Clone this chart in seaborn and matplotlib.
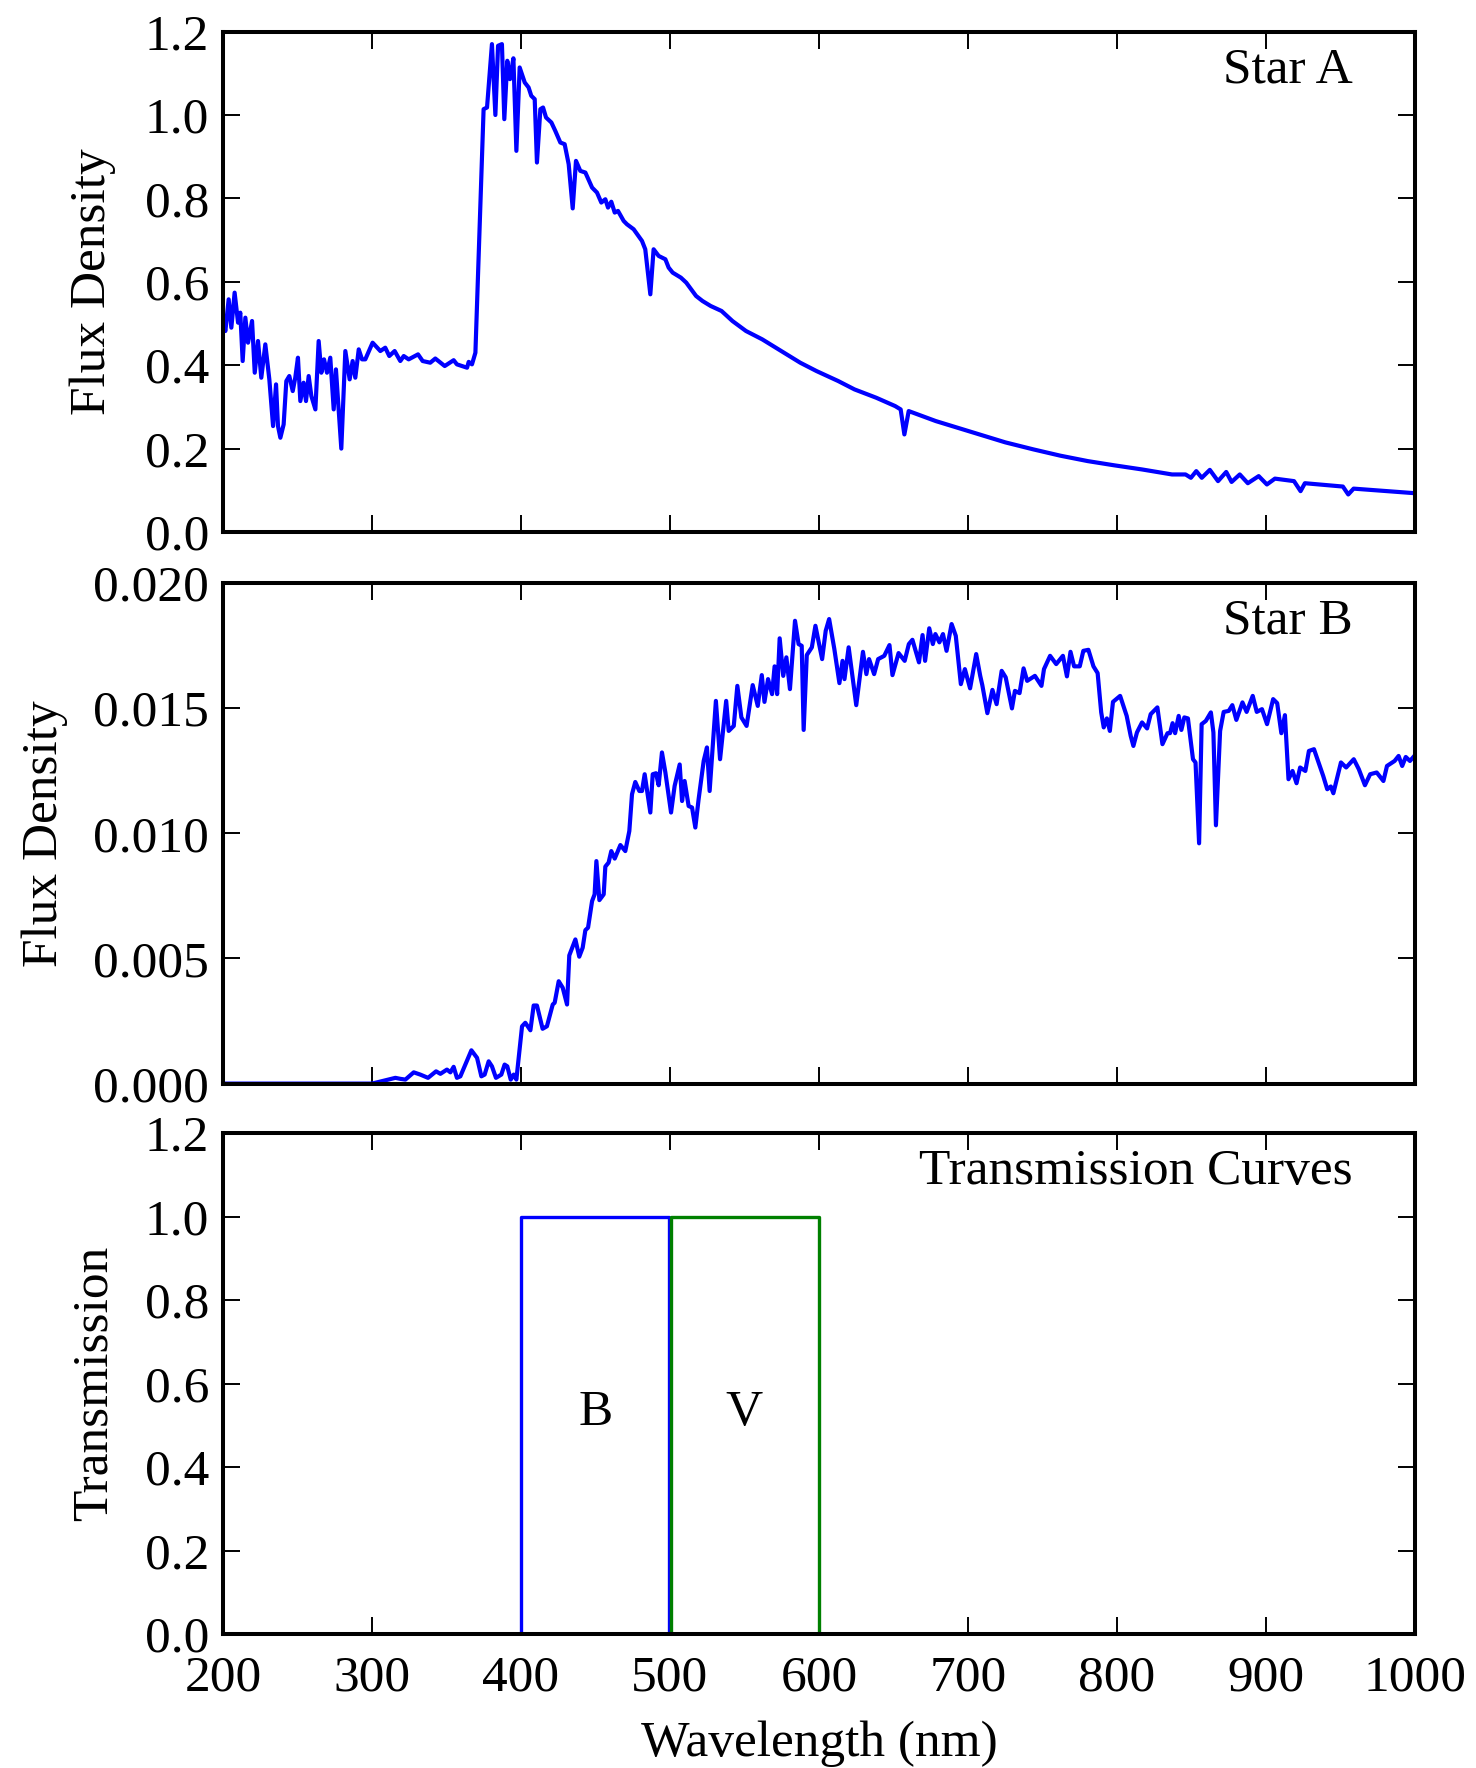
import matplotlib
matplotlib.use("Agg")
import matplotlib.pyplot as plt
import seaborn as sns
import pandas as pd
import numpy as np

# ---------------- data ----------------
starA_wl = [200.0, 201.6, 203.8, 205.6, 207.8, 210.1, 211.6, 213.2, 215.0, 216.8, 219.5, 221.3, 223.5,
            225.7, 228.4, 231.1, 233.6, 235.6, 236.9, 238.5, 240.7, 242.5, 244.5, 246.8, 248.5, 250.3,
            251.9, 254.1, 255.7, 257.5, 259.3, 262.0, 264.2, 266.0, 267.8, 269.8, 272.0, 274.3, 275.8,
            279.4, 282.1, 285.0, 287.0, 288.8, 291.1, 293.3, 295.5, 300.4, 305.6, 308.9, 311.6, 315.2,
            319.0, 321.3, 324.6, 330.9, 334.0, 339.1, 342.5, 348.8, 354.8, 357.0, 363.8, 364.9, 367.1,
            369.4, 374.9, 377.2, 380.5, 382.8, 384.6, 387.2, 388.8, 390.8, 392.6, 394.9, 396.9, 399.1,
            402.5, 405.1, 406.9, 409.2, 410.7, 413.0, 414.8, 416.8, 420.4, 423.0, 426.4, 429.3, 432.0,
            434.7, 436.9, 439.8, 443.2, 447.7, 451.0, 453.9, 456.6, 458.4, 460.6, 462.9, 465.1, 468.9,
            471.1, 475.6, 481.2, 483.4, 486.8, 489.0, 492.4, 496.9, 499.1, 501.8, 507.3, 510.9, 517.5,
            521.8, 527.3, 534.6, 541.9, 551.0, 561.9, 572.8, 587.4, 598.3, 612.9, 623.8, 638.4, 651.1,
            654.8, 657.3, 660.2, 678.4, 707.6, 725.0, 744.0, 762.0, 780.4, 798.0, 816.8, 836.9, 846.0,
            849.6, 853.2, 856.9, 862.3, 867.8, 873.3, 876.9, 882.4, 887.8, 895.1, 900.6, 906.0, 918.8,
            923.2, 926.1, 951.6, 955.2, 958.8, 1000.0]
starA_flux = [0.50, 0.482, 0.558, 0.490, 0.574, 0.502, 0.526, 0.410, 0.514, 0.454, 0.506, 0.382, 0.458,
              0.370, 0.450, 0.366, 0.254, 0.354, 0.254, 0.226, 0.258, 0.362, 0.374, 0.338, 0.370, 0.418,
              0.314, 0.358, 0.314, 0.374, 0.326, 0.294, 0.458, 0.382, 0.414, 0.382, 0.418, 0.294, 0.390,
              0.200, 0.434, 0.366, 0.410, 0.370, 0.438, 0.414, 0.414, 0.454, 0.434, 0.442, 0.422, 0.434,
              0.410, 0.422, 0.414, 0.426, 0.410, 0.406, 0.416, 0.398, 0.412, 0.402, 0.394, 0.408, 0.402,
              0.430, 1.014, 1.018, 1.170, 1.000, 1.166, 1.170, 0.990, 1.130, 1.086, 1.136, 0.914, 1.114,
              1.078, 1.066, 1.046, 1.038, 0.886, 1.014, 1.018, 0.994, 0.982, 0.962, 0.934, 0.930, 0.882,
              0.776, 0.890, 0.866, 0.862, 0.826, 0.814, 0.790, 0.798, 0.778, 0.792, 0.766, 0.770, 0.746,
              0.738, 0.726, 0.698, 0.678, 0.570, 0.678, 0.662, 0.654, 0.634, 0.622, 0.610, 0.598, 0.566,
              0.554, 0.542, 0.530, 0.506, 0.482, 0.462, 0.438, 0.406, 0.386, 0.362, 0.342, 0.322, 0.302,
              0.294, 0.234, 0.290, 0.266, 0.234, 0.215, 0.198, 0.183, 0.170, 0.160, 0.150, 0.138, 0.138,
              0.130, 0.146, 0.130, 0.149, 0.122, 0.144, 0.120, 0.138, 0.117, 0.134, 0.114, 0.128, 0.122,
              0.098, 0.117, 0.109, 0.090, 0.104, 0.093]

starB_wl = [200.0, 300.0, 309.0, 315.7, 319.0, 322.4, 328.0, 332.4, 337.6, 343.0, 345.9, 350.3, 352.6,
            354.8, 357.0, 359.3, 366.7, 370.5, 373.4, 375.6, 378.3, 380.5, 383.2, 386.8, 389.0, 390.8,
            393.1, 395.1, 396.9, 400.7, 402.9, 406.3, 408.5, 410.7, 414.5, 417.4, 421.3, 422.6, 425.3,
            428.0, 430.9, 432.4, 436.5, 439.1, 441.4, 443.2, 445.0, 447.7, 449.4, 450.6, 452.6, 455.5,
            456.6, 458.8, 460.6, 462.9, 466.7, 470.0, 472.7, 474.5, 476.7, 479.4, 481.2, 483.0, 486.8,
            488.4, 490.6, 492.4, 494.6, 496.9, 500.7, 503.1, 506.5, 508.1, 509.8, 512.5, 514.8, 517.0,
            519.2, 522.6, 524.8, 526.6, 530.8, 533.6, 537.7, 539.4, 542.8, 545.2, 547.9, 551.4, 555.5,
            558.9, 561.6, 563.4, 565.8, 568.5, 570.2, 571.9, 573.6, 576.0, 578.1, 580.5, 583.9, 586.3,
            588.4, 589.7, 591.8, 595.2, 597.6, 602.1, 604.5, 606.8, 610.3, 613.7, 615.8, 617.1, 619.9,
            625.0, 629.5, 631.8, 633.6, 637.0, 639.7, 643.8, 647.3, 649.3, 653.4, 657.5, 660.3, 662.7,
            667.1, 669.5, 671.2, 674.0, 676.4, 678.1, 680.8, 683.2, 685.6, 689.0, 691.8, 695.2, 697.9,
            701.4, 705.5, 708.2, 709.6, 713.0, 716.4, 719.2, 722.6, 725.3, 729.5, 731.5, 734.6, 737.3,
            739.7, 744.9, 749.3, 751.0, 755.1, 759.2, 763.7, 766.4, 768.8, 771.2, 775.0, 777.4, 780.8,
            784.2, 787.0, 789.4, 791.1, 793.2, 795.2, 797.3, 802.1, 806.5, 809.2, 811.0, 813.4, 816.8,
            820.2, 822.6, 827.1, 830.5, 833.9, 835.6, 837.3, 839.0, 841.4, 843.2, 845.2, 847.6, 851.0,
            852.7, 855.1, 856.8, 859.6, 863.0, 864.7, 866.4, 869.2, 871.6, 875.0, 877.4, 880.1, 884.2,
            887.0, 891.1, 893.8, 897.3, 900.7, 904.8, 907.5, 910.3, 912.7, 915.1, 917.8, 920.5, 922.9,
            926.4, 928.8, 932.2, 934.9, 938.4, 941.1, 943.5, 945.2, 950.3, 953.8, 958.9, 962.3, 966.4,
            969.9, 974.3, 978.8, 981.2, 986.3, 989.0, 991.4, 993.8, 996.6, 1000.0]
starB_flux = [0.0, 0.0, 0.00013, 0.00023, 0.00019, 0.00016, 0.00045, 0.00036, 0.00023, 0.00049, 0.00039,
              0.00056, 0.00045, 0.00067, 0.00023, 0.00029, 0.00133, 0.00103, 0.00029, 0.00036, 0.00089,
              0.00069, 0.00023, 0.00036, 0.00076, 0.00069, 0.00016, 0.00036, 0.00016, 0.00229, 0.00243,
              0.00213, 0.00312, 0.00312, 0.00219, 0.00229, 0.00316, 0.00323, 0.00409, 0.00383, 0.00316,
              0.00512, 0.00576, 0.00507, 0.00543, 0.00613, 0.00623, 0.00729, 0.00756, 0.00889, 0.00733,
              0.00756, 0.00867, 0.00883, 0.00929, 0.00899, 0.00953, 0.00929, 0.01009, 0.01156, 0.01205,
              0.01169, 0.01169, 0.01236, 0.01083, 0.01236, 0.01240, 0.01192, 0.01323, 0.01243, 0.01083,
              0.01189, 0.01275, 0.01129, 0.01209, 0.01109, 0.01103, 0.01023, 0.01136, 0.01289, 0.01343,
              0.01169, 0.01529, 0.01296, 0.01529, 0.01409, 0.01429, 0.01589, 0.01463, 0.01429, 0.01592,
              0.01509, 0.01632, 0.01525, 0.01616, 0.01556, 0.01667, 0.01556, 0.01779, 0.01629, 0.01703,
              0.01576, 0.01849, 0.01756, 0.01749, 0.01413, 0.01712, 0.01743, 0.01829, 0.01696, 0.01809,
              0.01856, 0.01736, 0.01600, 0.01689, 0.01616, 0.01743, 0.01512, 0.01725, 0.01636, 0.01696,
              0.01636, 0.01696, 0.01709, 0.01752, 0.01632, 0.01720, 0.01689, 0.01756, 0.01773, 0.01683,
              0.01792, 0.01689, 0.01819, 0.01756, 0.01796, 0.01763, 0.01796, 0.01729, 0.01836, 0.01789,
              0.01596, 0.01656, 0.01579, 0.01716, 0.01629, 0.01592, 0.01480, 0.01573, 0.01516, 0.01649,
              0.01623, 0.01499, 0.01569, 0.01560, 0.01659, 0.01609, 0.01629, 0.01589, 0.01656, 0.01709,
              0.01676, 0.01709, 0.01627, 0.01725, 0.01667, 0.01667, 0.01729, 0.01733, 0.01667, 0.01640,
              0.01483, 0.01423, 0.01459, 0.01409, 0.01525, 0.01549, 0.01469, 0.01389, 0.01349, 0.01403,
              0.01443, 0.01419, 0.01476, 0.01503, 0.01356, 0.01400, 0.01400, 0.01440, 0.01400, 0.01469,
              0.01413, 0.01463, 0.01459, 0.01296, 0.01283, 0.00960, 0.01436, 0.01449, 0.01483, 0.01403,
              0.01032, 0.01409, 0.01485, 0.01489, 0.01512, 0.01453, 0.01523, 0.01485, 0.01549, 0.01485,
              0.01496, 0.01436, 0.01536, 0.01520, 0.01400, 0.01472, 0.01216, 0.01249, 0.01200, 0.01263,
              0.01249, 0.01329, 0.01336, 0.01289, 0.01229, 0.01176, 0.01187, 0.01160, 0.01283, 0.01263,
              0.01296, 0.01256, 0.01192, 0.01236, 0.01243, 0.01209, 0.01269, 0.01289, 0.01309, 0.01269,
              0.01305, 0.01289, 0.01312]

B_wl = [400, 400, 499, 499]
B_trans = [0.0, 1.0, 1.0, 0.0]
V_wl = [501, 501, 600, 600]
V_trans = [0.0, 1.0, 1.0, 0.0]

panel_titles = ["Star A", "Star B", "Transmission Curves"]
band_names = ["B", "V"]
band_centers = [450, 550]

# ---------------- style ----------------
sns.set_style("ticks")
plt.rcParams["font.family"] = ["Liberation Serif", "DejaVu Serif"]
FS = 18.5
plt.rcParams.update({
    "font.size": FS,
    "text.color": "black",
    "axes.labelcolor": "black",
    "axes.linewidth": 1.45,
    "axes.edgecolor": "black",
    "xtick.direction": "in",
    "ytick.direction": "in",
    "xtick.top": True,
    "ytick.right": True,
    "xtick.major.size": 6,
    "ytick.major.size": 6,
    "xtick.major.width": 0.7,
    "ytick.major.width": 0.7,
    "xtick.major.pad": 7.5,
    "ytick.major.pad": 5,
    "xtick.color": "black",
    "ytick.color": "black",
    "xtick.labelcolor": "black",
    "ytick.labelcolor": "black",
    "xtick.labelsize": FS,
    "ytick.labelsize": FS,
    "axes.labelsize": FS,
})

W, H = 1476, 1768
fig = plt.figure(figsize=(W / 200, H / 200), dpi=200)
left, right = 223 / W, 1415 / W
tops = [31.6, 583.0, 1133.0]
bots = [532.0, 1083.6, 1634.0]
axes = []
for t, b in zip(tops, bots):
    ax = fig.add_axes([left, 1 - b / H, right - left, (b - t) / H])
    axes.append(ax)

dfA = pd.DataFrame({"wl": starA_wl, "flux": starA_flux})
dfB = pd.DataFrame({"wl": starB_wl, "flux": starB_flux})
dfBb = pd.DataFrame({"wl": B_wl, "t": B_trans})
dfVb = pd.DataFrame({"wl": V_wl, "t": V_trans})

sns.lineplot(data=dfA, x="wl", y="flux", ax=axes[0], color="blue", lw=1.5,
             estimator=None, sort=False, legend=False)
sns.lineplot(data=dfB, x="wl", y="flux", ax=axes[1], color="blue", lw=1.5,
             estimator=None, sort=False, legend=False)
sns.lineplot(data=dfBb, x="wl", y="t", ax=axes[2], color="blue", lw=1.2,
             estimator=None, sort=False, legend=False)
sns.lineplot(data=dfVb, x="wl", y="t", ax=axes[2], color="green", lw=1.2,
             estimator=None, sort=False, legend=False)

ylims = [(0, 1.2), (0, 0.02), (0, 1.2)]
ylabels = ["Flux Density", "Flux Density", "Transmission"]
ystep = [0.2, 0.005, 0.2]
yfmt = ["%.1f", "%.3f", "%.1f"]
label_x = [-0.090, -0.130, -0.088]
for i, ax in enumerate(axes):
    ax.set_xlim(200, 1000)
    ax.set_ylim(*ylims[i])
    ax.set_xticks(list(range(200, 1001, 100)))
    ax.set_yticks(np.round(np.arange(ylims[i][0], ylims[i][1] + ystep[i] / 2, ystep[i]), 4))
    ax.yaxis.set_major_formatter(matplotlib.ticker.FormatStrFormatter(yfmt[i]))
    ax.set_ylabel(ylabels[i])
    ax.yaxis.set_label_coords(label_x[i], 0.5)
    for s in ax.spines.values():
        s.set_visible(True)
        s.set_linewidth(1.45)
    ax.tick_params(which="both", top=True, right=True, direction="in")
    ax.text(0.948, 0.899, panel_titles[i], transform=ax.transAxes,
            ha="right", va="baseline", fontsize=FS)
    if i < 2:
        ax.set_xlabel("")
        ax.tick_params(labelbottom=False)
    else:
        ax.set_xlabel("Wavelength (nm)", labelpad=7)

for name, c in zip(band_names, band_centers):
    axes[2].text(c, 0.5, name, ha="center", va="baseline", fontsize=FS)

fig.savefig("out.png", dpi=200, facecolor="white")
